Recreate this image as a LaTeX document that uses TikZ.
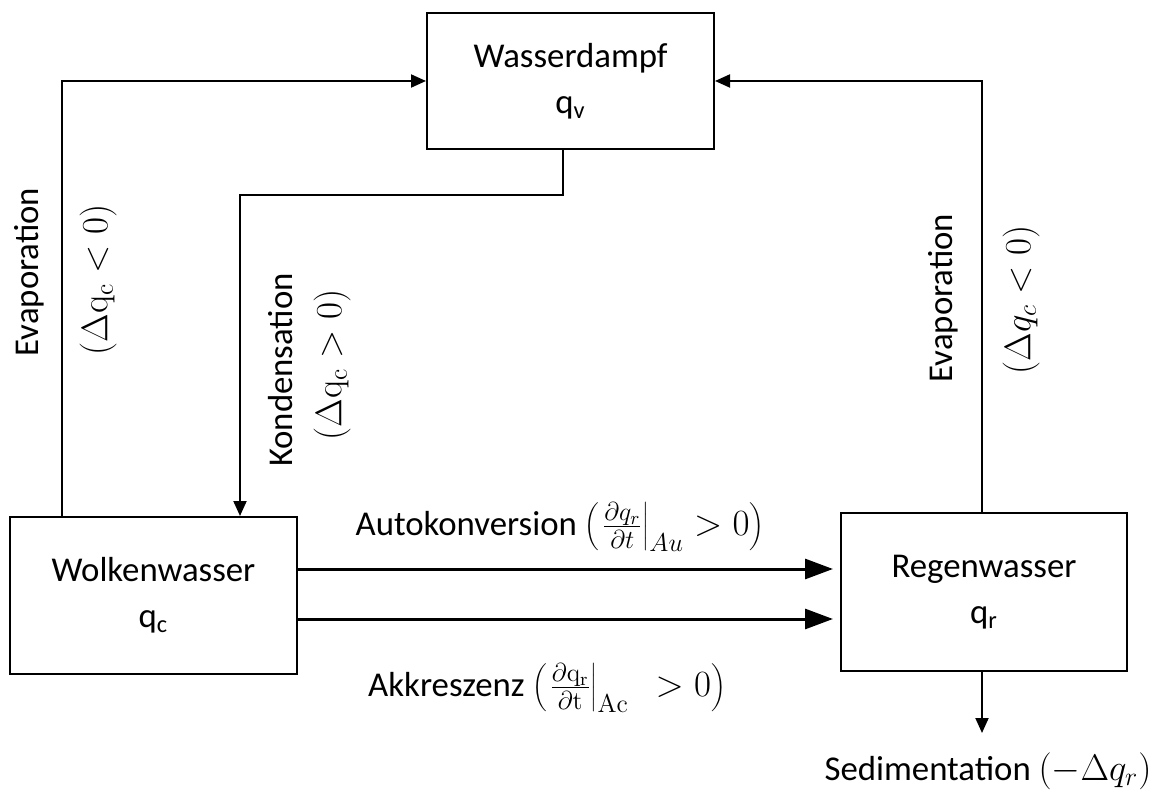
\RequirePackage{fix-cm}
\documentclass[tikz,border=0pt]{standalone}
\usepackage[no-math]{fontspec}
\setmainfont{Carlito}
\usetikzlibrary{arrows.meta}

\newcommand{\mathbig}[1]{{\fontsize{18.5}{23}\selectfont$#1$}}

\begin{document}
\begin{tikzpicture}[x=0.5pt, y=-0.5pt,
    txt/.style={font=\fontsize{17.4}{23}\selectfont},
    box/.style={txt, draw, line width=1pt, align=center, inner sep=0pt},
    flow/.style={line width=1pt, -{Triangle[length=7.5pt, width=6.5pt]}},
    bigflow/.style={line width=1.5pt, shorten >=3.5pt, -{Triangle[length=14pt, width=10pt]}}]
    \useasboundingbox (0,0) rectangle (1157,791);

    \node[box, minimum width=143.5pt, minimum height=68pt] (dampf) at (570.5,81) {Wasserdampf\\q\textsubscript{v}};
    \node[box, minimum width=143.5pt, minimum height=78.5pt] (wolken) at (153.5,595.5) {Wolkenwasser\\q\textsubscript{c}};
    \node[box, minimum width=143pt, minimum height=79pt] (regen) at (984,592) {Regenwasser\\q\textsubscript{r}};

    \coordinate (evapL) at (62,80);
    \coordinate (kondA) at (563,195);
    \coordinate (kondB) at (240,195);
    \coordinate (evapR) at (982,80);
    \coordinate (sediEnd) at (982,733);

    \draw[flow] (wolken.north -| evapL) |- (dampf.west);
    \draw[flow] (dampf.south -| kondA) -- (kondA) -- (kondB) -- (kondB |- wolken.north);
    \draw[flow] (regen.north -| evapR) |- (dampf.east);
    \draw[bigflow] (wolken.east |- 0,569) -- (regen.west |- 0,569);
    \draw[bigflow] (wolken.east |- 0,619) -- (regen.west |- 0,619);
    \draw[flow] (regen.south -| sediEnd) -- (sediEnd);

    \node[txt, rotate=90] (evapLtext) at (29,272) {Evaporation};
    \node[txt, rotate=90] (evapLmath) at (98,280) {\mathbig{(\Delta \mathrm{q_c} < 0)}};
    \node[txt, rotate=90] (kondtext) at (281,370) {Kondensation};
    \node[txt, rotate=90] (kondmath) at (332,365) {\mathbig{(\Delta \mathrm{q_c} > 0)}};
    \node[txt, rotate=90] (evapRtext) at (943,298) {Evaporation};
    \node[txt, rotate=90] (evapRmath) at (1021,300) {\mathbig{(\Delta q_c < 0)}};

    \node[txt] (autotext) at (560,527) {Autokonversion \mathbig{\left(\left.\frac{\partial q_r}{\partial t}\right|_{Au} > 0\right)}};
    \node[txt] (akktext) at (547,688) {Akkreszenz \mathbig{\left(\left.\frac{\partial \mathrm{q_r}}{\partial \mathrm{t}}\right|_{\mathrm{Ac}}\;\, > 0\right)}};
    \node[txt] (seditext) at (988,771) {Sedimentation \mathbig{(-\Delta q_r)}};
\end{tikzpicture}
\end{document}
